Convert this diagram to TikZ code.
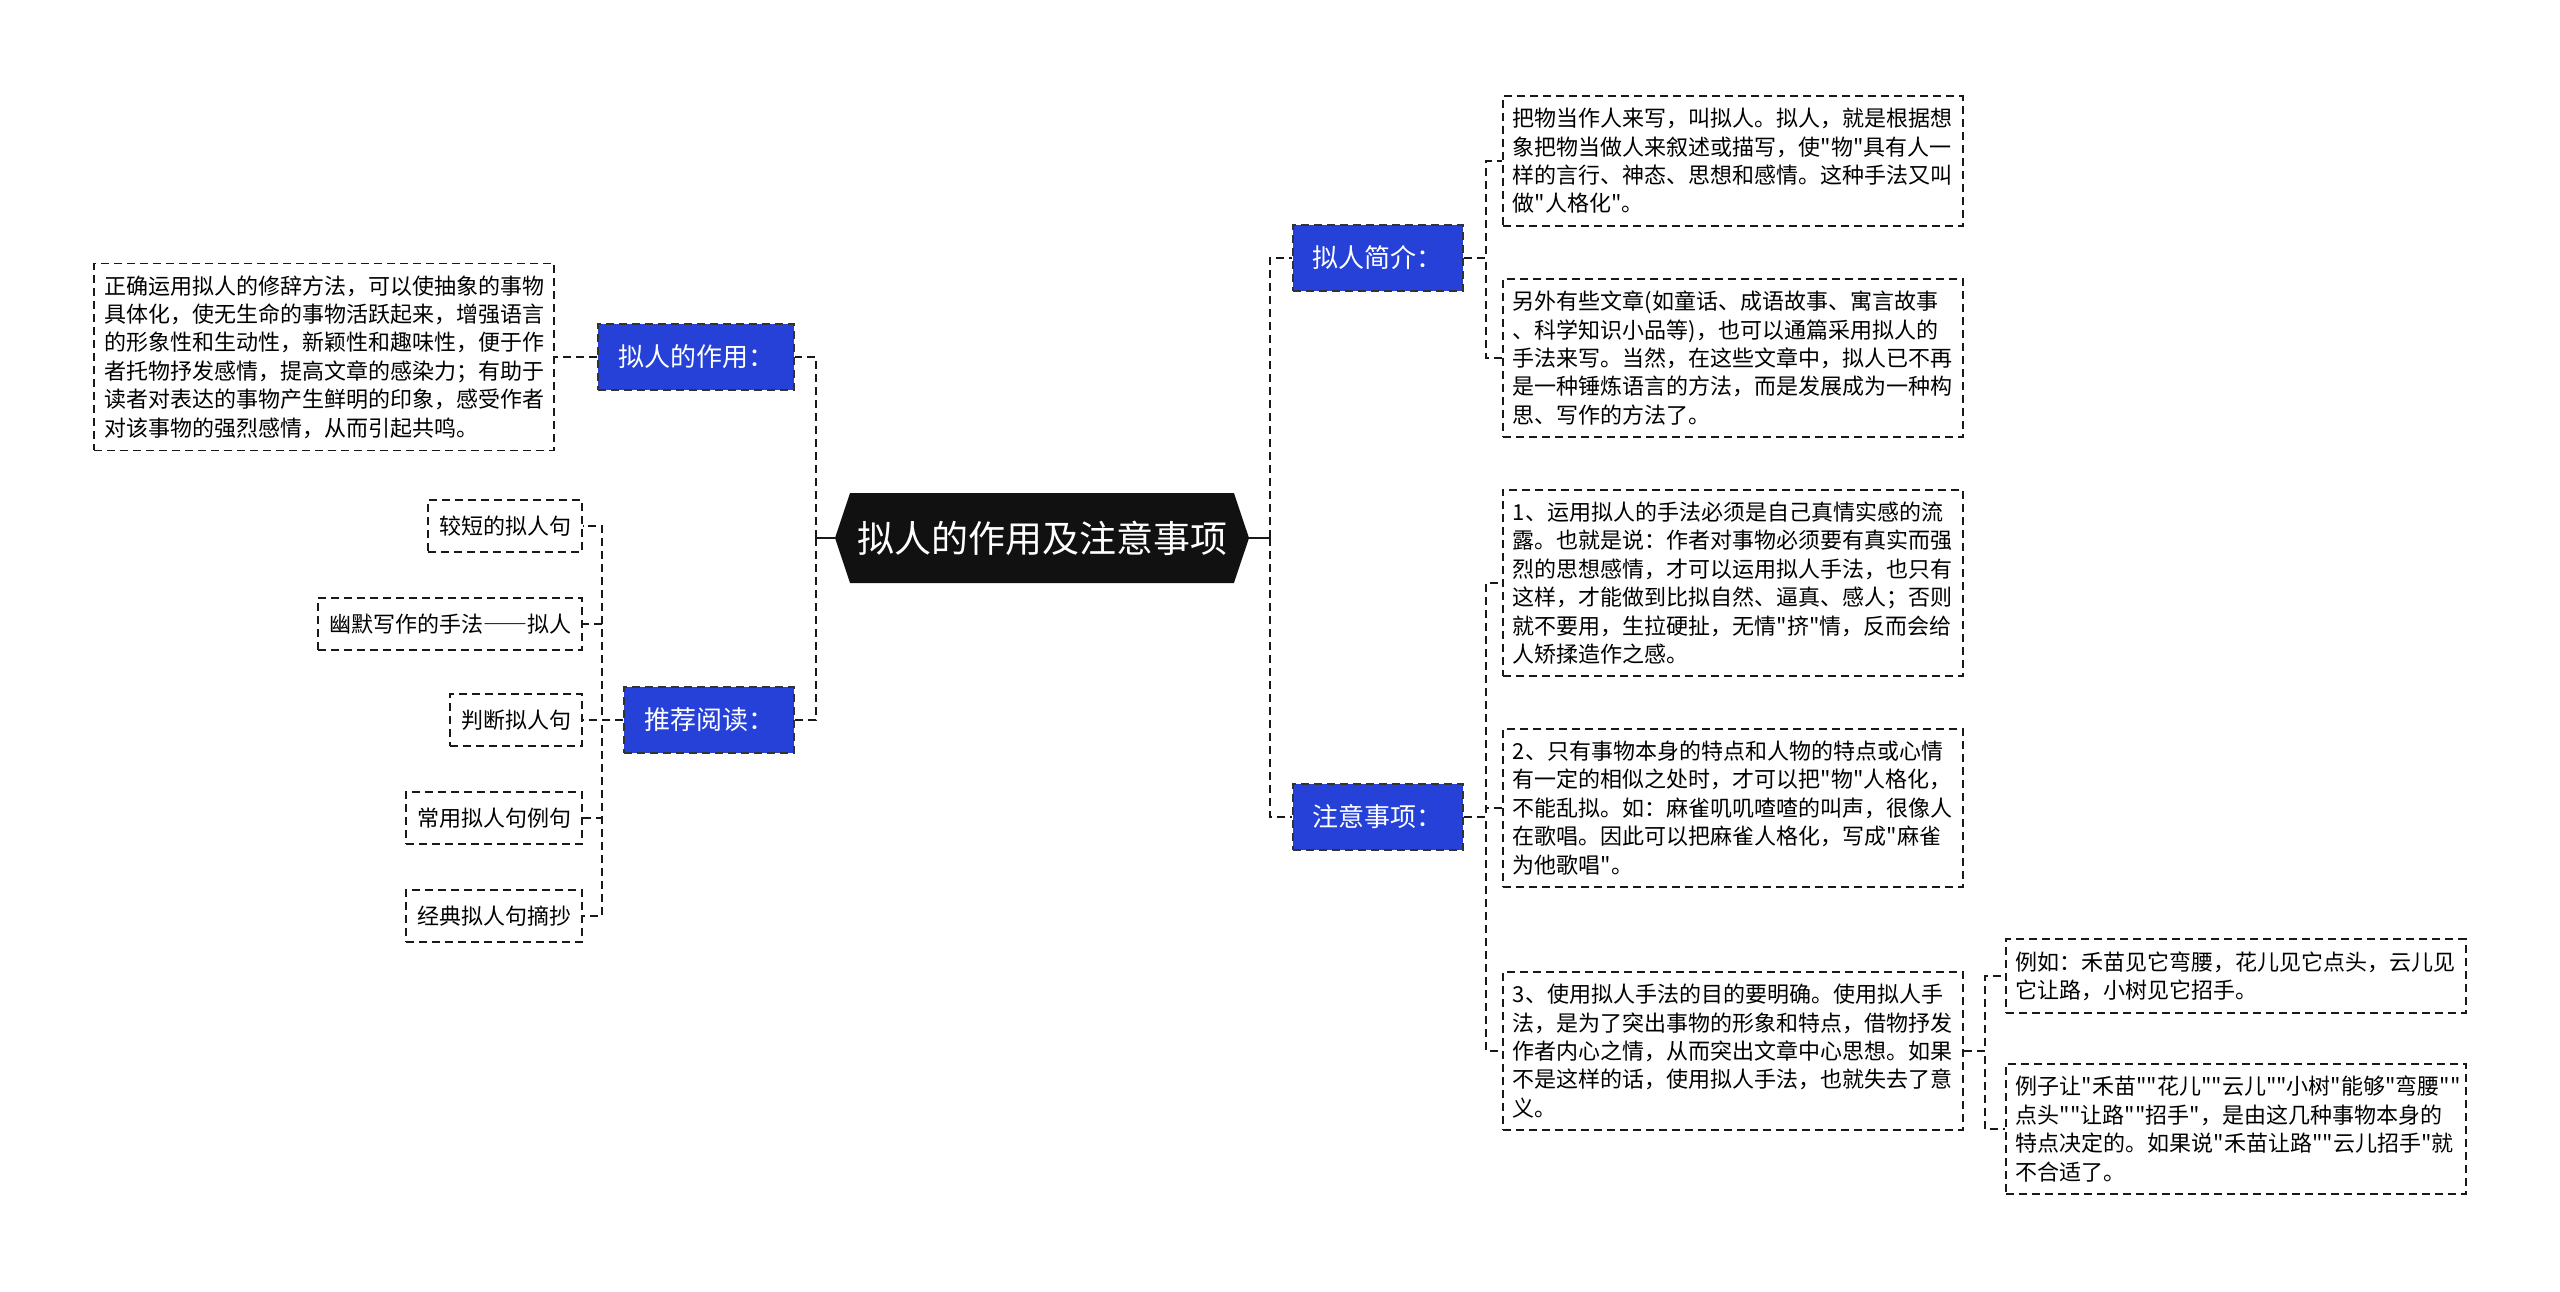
\documentclass[tikz,border=0pt]{standalone}
\usepackage{fontspec}
\newfontfamily\cjk{Noto Sans CJK SC}
\usepackage{xcolor}
\usepackage{tikz}
\usetikzlibrary{positioning,shapes.symbols}
\definecolor{topicblue}{HTML}{2541D8}
\definecolor{rootblack}{HTML}{111111}

\begin{document}
\begin{tikzpicture}[x=0.5pt,y=-0.5pt,font=\cjk\fontsize{11pt}{14.2pt}\selectfont,
  link/.style={draw=black!90,line width=1.1pt,dash pattern=on 4pt off 2.5pt},
  rootlink/.style={draw=black!90,line width=1.4pt},
  textbox/.style={draw=black!90,line width=0.9pt,dash pattern=on 4pt off 2.5pt,
    text width=220pt,align=left,inner xsep=5pt,inner ysep=6pt},
  leafbox/.style={draw=black!90,line width=0.9pt,dash pattern=on 4pt off 2.5pt,
    inner xsep=5.5pt,inner ysep=0pt,minimum height=26pt},
  topicbox/.style={fill=topicblue,draw=black!80,line width=0.9pt,dash pattern=on 4pt off 2.5pt,
    text=white,font=\cjk\fontsize{13pt}{15pt}\selectfont,inner xsep=10pt,minimum height=33pt},
  rootbox/.style={signal,signal to=west and east,signal pointer angle=143,fill=rootblack,
    text=white,font=\cjk\fontsize{18.5pt}{22pt}\selectfont,minimum width=207pt,minimum height=45pt,inner xsep=2pt}]
  \useasboundingbox (0,0) rectangle (2560,1291);

  \node[rootbox] (root) at (1042,538) {拟人的作用及注意事项};
  \coordinate (lj) at (816,538);
  \coordinate (rj) at (1270,538);
  \draw[rootlink] (root.west) -- (lj);
  \draw[rootlink] (root.east) -- (rj);

  % left side
  \node[topicbox,anchor=east] (use) at (795,357) {拟人的作用：};
  \node[textbox,anchor=east] (usetext) at (555,357) {正确运用拟人的修辞方法，可以使抽象的事物\\具体化，使无生命的事物活跃起来，增强语言\\的形象性和生动性，新颖性和趣味性，便于作\\者托物抒发感情，提高文章的感染力；有助于\\读者对表达的事物产生鲜明的印象，感受作者\\对该事物的强烈感情，从而引起共鸣。};
  \draw[link] (lj) |- (use.east);
  \draw[link] (use.west) -- (usetext.east);

  \node[topicbox,anchor=east] (read) at (795,720) {推荐阅读：};
  \draw[link] (lj) |- (read.east);
  \foreach \y/\lab [count=\i] in {526/较短的拟人句, 624/幽默写作的手法{\addfontfeature{RawFeature=+fwid}——}拟人,
                                   720/判断拟人句, 818/常用拟人句例句, 916/经典拟人句摘抄}{
     \node[leafbox,anchor=east] (book\i) at (583,\y) {\lab};
     \draw[link] (read.west) -- ++(-21,0) |- (book\i.east);
  }

  % right side
  \node[topicbox,anchor=west] (intro) at (1292,258) {拟人简介：};
  \node[textbox,anchor=west] (intro1) at (1502,161) {把物当作人来写，叫拟人。拟人，就是根据想\\象把物当做人来叙述或描写，使"物"具有人一\\样的言行、神态、思想和感情。这种手法又叫\\做"人格化"。};
  \node[textbox,anchor=west] (intro2) at (1502,358) {另外有些文章(如童话、成语故事、寓言故事\\、科学知识小品等)，也可以通篇采用拟人的\\手法来写。当然，在这些文章中，拟人已不再\\是一种锤炼语言的方法，而是发展成为一种构\\思、写作的方法了。};
  \draw[link] (rj) |- (intro.west);
  \foreach \t in {intro1,intro2}
     \draw[link] (intro.east) -- ++(22,0) |- (\t.west);

  \node[topicbox,anchor=west] (care) at (1292,817) {注意事项：};
  \node[textbox,anchor=west] (care1) at (1502,583) {1、运用拟人的手法必须是自己真情实感的流\\露。也就是说：作者对事物必须要有真实而强\\烈的思想感情，才可以运用拟人手法，也只有\\这样，才能做到比拟自然、逼真、感人；否则\\就不要用，生拉硬扯，无情"挤"情，反而会给\\人矫揉造作之感。};
  \node[textbox,anchor=west] (care2) at (1502,808) {2、只有事物本身的特点和人物的特点或心情\\有一定的相似之处时，才可以把"物"人格化，\\不能乱拟。如：麻雀叽叽喳喳的叫声，很像人\\在歌唱。因此可以把麻雀人格化，写成"麻雀\\为他歌唱"。};
  \node[textbox,anchor=west] (care3) at (1502,1051) {3、使用拟人手法的目的要明确。使用拟人手\\法，是为了突出事物的形象和特点，借物抒发\\作者内心之情，从而突出文章中心思想。如果\\不是这样的话，使用拟人手法，也就失去了意\\义。};
  \draw[link] (rj) |- (care.west);
  \foreach \t in {care1,care2,care3}
     \draw[link] (care.east) -- ++(22,0) |- (\t.west);

  \node[textbox,anchor=west] (ex1) at (2005,976) {例如：禾苗见它弯腰，花儿见它点头，云儿见\\它让路，小树见它招手。};
  \node[textbox,anchor=west] (ex2) at (2005,1129) {例子让"禾苗""花儿""云儿""小树"能够"弯腰""\\点头""让路""招手"，是由这几种事物本身的\\特点决定的。如果说"禾苗让路""云儿招手"就\\不合适了。};
  \foreach \t in {ex1,ex2}
     \draw[link] (care3.east) -- ++(21,0) |- (\t.west);
\end{tikzpicture}
\end{document}
